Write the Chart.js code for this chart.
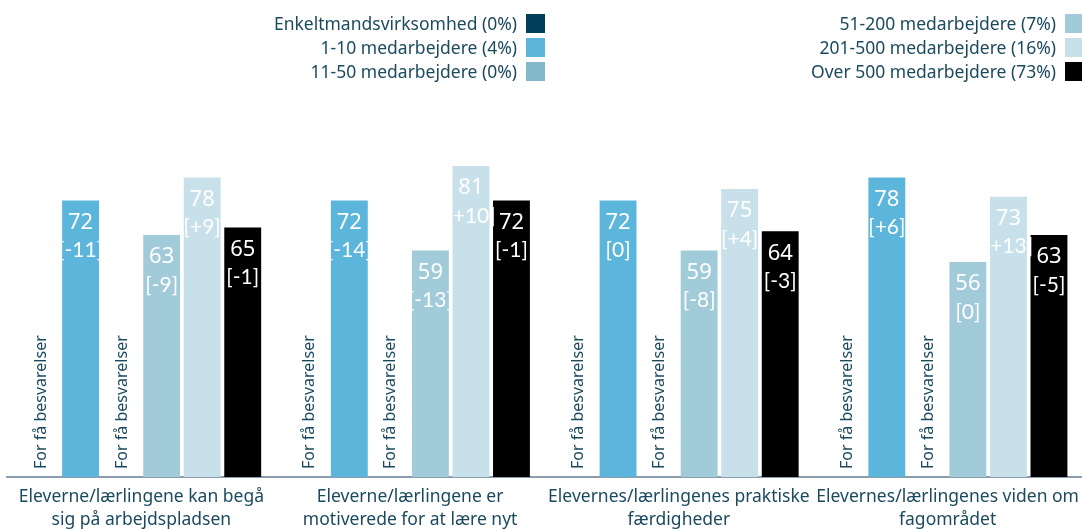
<!DOCTYPE html>
<html>
<head>
<meta charset="utf-8">
<script src="https://cdn.jsdelivr.net/npm/chart.js@4/dist/chart.umd.min.js"></script>
<style>
  body { margin: 0; background: #fff; }
  #wrap { position: relative; width: 1082px; height: 529px; }
  .leg { position: absolute; font-family: 'Noto Sans', sans-serif; font-size: 17.5px; line-height: 20px; color: #1b4a5f; text-align: right; white-space: nowrap; }
  .leg span.sw { position: absolute; width: 19px; height: 19px; top: 0; }
</style>
</head>
<body>
<div id="wrap">
  <canvas id="myChart" width="1082" height="529"></canvas>
  <div id="legend"></div>
</div>
<script>
'use strict'
// data
var categories = [
    ['Eleverne/lærlingene kan begå', 'sig på arbejdspladsen'],
    ['Eleverne/lærlingene er', 'motiverede for at lære nyt'],
    ['Elevernes/lærlingenes praktiske', 'færdigheder'],
    ['Elevernes/lærlingenes viden om', 'fagområdet']
];
var seriesNames = ['Enkeltmandsvirksomhed (0%)', '1-10 medarbejdere (4%)', '11-50 medarbejdere (0%)',
    '51-200 medarbejdere (7%)', '201-500 medarbejdere (16%)', 'Over 500 medarbejdere (73%)'];
var seriesColors = ['#003f5a', '#5cb5da', '#82b8ca', '#a2cbda', '#c7e0ea', '#000000'];

var enkeltValues = [null, null, null, null];
var small110Values = [72, 72, 72, 78];
var mid1150Values = [null, null, null, null];
var mid51200Values = [63, 59, 59, 56];
var large201500Values = [78, 81, 75, 73];
var over500Values = [65, 72, 64, 63];

var small110Delta = ['[-11]', '[-14]', '[0]', '[+6]'];
var mid51200Delta = ['[-9]', '[-13]', '[-8]', '[0]'];
var large201500Delta = ['[+9]', '[+10]', '[+4]', '[+13]'];
var over500Delta = ['[-1]', '[-1]', '[-3]', '[-5]'];

var allValues = [enkeltValues, small110Values, mid1150Values, mid51200Values, large201500Values, over500Values];
var allDeltas = [null, small110Delta, null, mid51200Delta, large201500Delta, over500Delta];
var tooFewText = 'For få besvarelser';

var textColor = '#1b4a5f';

// legend in html, two columns of three, swatch on the right
var legendBox = document.getElementById('legend');
for (var i = 0; i < seriesNames.length; i++) {
    var col = Math.floor(i / 3);
    var row = i % 3;
    var item = document.createElement('div');
    item.className = 'leg';
    var right = col === 0 ? 1082 - 517 : 1082 - 1056;
    item.style.right = right + 'px';
    item.style.top = (13 + row * 24) + 'px';
    item.textContent = seriesNames[i];
    var sw = document.createElement('span');
    sw.className = 'sw';
    sw.style.background = seriesColors[i];
    sw.style.right = '-28px';
    sw.style.top = '1px';
    item.appendChild(sw);
    legendBox.appendChild(item);
}

// draws values + deltas inside bars, and the vertical note for empty series
var barLabels = {
    id: 'barLabels',
    afterDatasetsDraw: function (chart) {
        var ctx = chart.ctx;
        var bottom = chart.chartArea.bottom;
        chart.data.datasets.forEach(function (ds, di) {
            var meta = chart.getDatasetMeta(di);
            meta.data.forEach(function (bar, idx) {
                var v = ds.data[idx];
                ctx.save();
                if (v === null) {
                    ctx.translate(bar.x, bottom - 8);
                    ctx.rotate(-Math.PI / 2);
                    ctx.font = '16px "Noto Sans"';
                    ctx.fillStyle = textColor;
                    ctx.textAlign = 'left';
                    ctx.textBaseline = 'middle';
                    ctx.fillText(tooFewText, 0, 1);
                } else {
                    ctx.fillStyle = '#ffffff';
                    ctx.textAlign = 'center';
                    ctx.textBaseline = 'middle';
                    ctx.font = '22px "Noto Sans"';
                    ctx.fillText(String(v), bar.x, bar.y + 22);
                    ctx.font = '21px Lato';
                    ctx.fillText(allDeltas[di][idx], bar.x, bar.y + 50);
                }
                ctx.restore();
            });
        });
    }
};

var datasets = [];
for (var s = 0; s < seriesNames.length; s++) {
    datasets.push({
        label: seriesNames[s],
        data: allValues[s],
        backgroundColor: seriesColors[s],
        borderWidth: 0,
        categoryPercentage: 0.905,
        barPercentage: 0.91
    });
}

var ctx = document.getElementById('myChart').getContext('2d');
var chart = new Chart(ctx, {
    type: 'bar',
    data: {
        labels: categories,
        datasets: datasets
    },
    options: {
        responsive: false,
        animation: false,
        layout: { padding: { top: 93, left: 7, right: 0, bottom: 0 } },
        plugins: {
            legend: { display: false },
            tooltip: { enabled: false }
        },
        scales: {
            x: {
                grid: { display: false },
                border: { display: true, color: '#8a9cad', width: 2 },
                ticks: {
                    color: textColor,
                    font: { family: 'Noto Sans', size: 17.5, lineHeight: 1.3 },
                    padding: 1,
                    maxRotation: 0,
                    autoSkip: false
                },
                afterFit: function (scale) { scale.height = 52; }
            },
            y: {
                display: false,
                min: 0,
                max: 100
            }
        }
    },
    plugins: [barLabels]
});
</script>
</body>
</html>
